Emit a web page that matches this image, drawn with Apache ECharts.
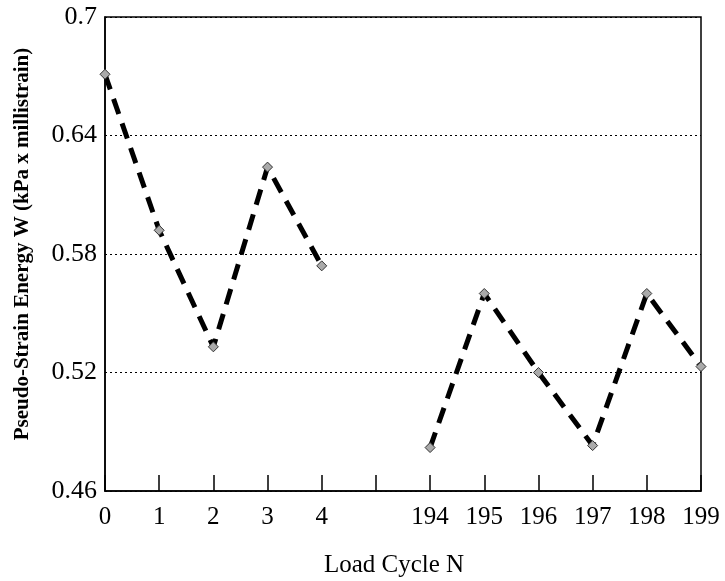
<!DOCTYPE html>
<html>
<head>
<meta charset="utf-8">
<script src="https://cdn.jsdelivr.net/npm/echarts@6/dist/echarts.min.js"></script>
<style>
  html, body { margin: 0; padding: 0; background: #fff; }
  #chart { width: 725px; height: 581px; }
</style>
</head>
<body>
<div id="chart"></div>
<script>
// load cycles (blank slot marks the break between 4 and 194)
const cycles = ['0', '1', '2', '3', '4', '', '194', '195', '196', '197', '198', '199']
// pseudo-strain energy, kPa x millistrain
const energy = [0.671, 0.592, 0.533, 0.624, 0.574, null, 0.482, 0.560, 0.520, 0.483, 0.560, 0.523]
const yTicks = [0.46, 0.52, 0.58, 0.64, 0.7]

const font = 'Liberation Serif'
const chart = echarts.init(document.getElementById('chart'))

const option = {
  backgroundColor: '#fff',
  animation: false,
  grid: {
    left: 105,
    right: 24,
    top: 17,
    bottom: 90,
    outerBoundsMode: 'none',
    show: true,
    borderColor: '#000',
    borderWidth: 1.5
  },
  xAxis: {
    type: 'category',
    data: cycles,
    boundaryGap: false,
    name: 'Load Cycle N',
    nameLocation: 'middle',
    nameGap: 62,
    nameTextStyle: { fontFamily: font, fontSize: 25, color: '#000', padding: [0, 18, 0, 0] },
    axisLine: { lineStyle: { color: '#000', width: 1.5 } },
    axisTick: { inside: true, length: 16, lineStyle: { color: '#000', width: 1.5 } },
    axisLabel: { fontFamily: font, fontSize: 25, color: '#000', margin: 14, interval: 0 },
    splitLine: { show: false }
  },
  yAxis: {
    type: 'value',
    min: 0.46,
    max: 0.7,
    interval: 0.06,
    name: 'Pseudo-Strain Energy W (kPa x millistrain)',
    nameLocation: 'middle',
    nameGap: 72,
    nameRotate: 90,
    nameTextStyle: { fontFamily: font, fontSize: 21, fontWeight: 'bold', color: '#000', padding: [0, 0, 0, 20] },
    axisLine: { show: true, lineStyle: { color: '#000', width: 1.5 } },
    axisTick: { inside: true, length: 15, lineStyle: { color: '#000', width: 1.5 } },
    axisLabel: {
      fontFamily: font,
      fontSize: 26,
      color: '#000',
      margin: 8,
      formatter: v => {
        const t = yTicks.find(x => Math.abs(x - v) < 1e-6)
        return t === undefined ? '' : String(t)
      }
    },
    splitLine: { show: true, lineStyle: { color: '#000', type: [2, 3], width: 1 } }
  },
  series: [
    {
      type: 'line',
      data: energy,
      connectNulls: false,
      symbol: 'diamond',
      symbolSize: 10,
      itemStyle: { color: '#aaa', borderColor: '#333', borderWidth: 1 },
      lineStyle: { color: '#000', width: 5, type: [16, 10] }
    }
  ]
}

chart.setOption(option)
</script>
</body>
</html>
